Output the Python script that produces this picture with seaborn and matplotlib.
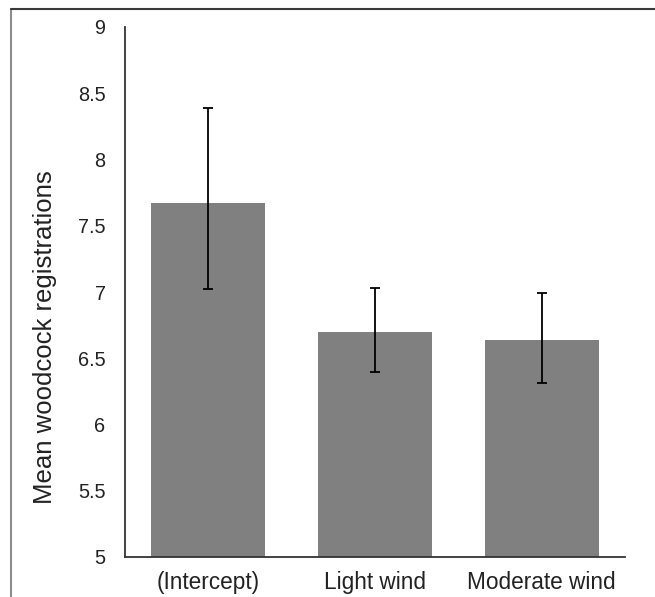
import matplotlib
matplotlib.use("Agg")
import matplotlib.pyplot as plt
import seaborn as sns
import pandas as pd
import numpy as np
from matplotlib.lines import Line2D

categories = ["(Intercept)", "Light wind", "Moderate wind"]
means = [7.67, 6.70, 6.64]
lower = [7.02, 6.40, 6.31]
upper = [8.39, 7.03, 6.99]
yticks = [5, 5.5, 6, 6.5, 7, 7.5, 8, 8.5, 9]
ytick_labels = ["5", "5.5", "6", "6.5", "7", "7.5", "8", "8.5", "9"]

sns.set_style("white")
plt.rcParams['font.family'] = ['Liberation Sans', 'DejaVu Sans']

df = pd.DataFrame({"cat": categories, "mean": means})

fig = plt.figure(figsize=(6.55, 5.97), dpi=100)
ax = fig.add_axes([125/655, 40/597, 500/655, 530/597])

sns.barplot(data=df, x="cat", y="mean", color="#808080", saturation=1,
            width=0.684, ax=ax, errorbar=None)
for p in ax.patches:
    p.set_edgecolor("none")

m = np.array(means)
yerr = np.vstack([m - np.array(lower), np.array(upper) - m])
ax.errorbar(np.arange(len(categories)), m, yerr=yerr, fmt="none",
            ecolor="black", elinewidth=1.3, capsize=3.6, capthick=1.3)

ax.set_ylim(5, 9)
ax.set_xlim(-0.5, 2.5)
ax.set_yticks(yticks)
ax.set_yticklabels(ytick_labels)
ax.set_xlabel("")
ax.set_ylabel("Mean woodcock registrations", fontsize=18.5, color="#222222")
ax.yaxis.set_label_coords(-0.136, 0.414)
ax.tick_params(axis="y", length=0, pad=14, labelsize=14.3, labelcolor="#222222")
ax.tick_params(axis="x", length=0, pad=10, labelsize=16.3, labelcolor="#222222")
for s in ["top", "right"]:
    ax.spines[s].set_visible(False)
for s in ["left", "bottom"]:
    ax.spines[s].set_color("#333333")
    ax.spines[s].set_linewidth(1.3)

# outer chart border (left and top)
fig.add_artist(Line2D([11/655, 11/655], [0, 1 - 9/597], transform=fig.transFigure,
                      color="#8c8c8c", linewidth=1.5))
fig.add_artist(Line2D([11/655, 1], [1 - 9/597, 1 - 9/597], transform=fig.transFigure,
                      color="#3a3a3a", linewidth=1.5))

fig.savefig("out.png", dpi=100)
